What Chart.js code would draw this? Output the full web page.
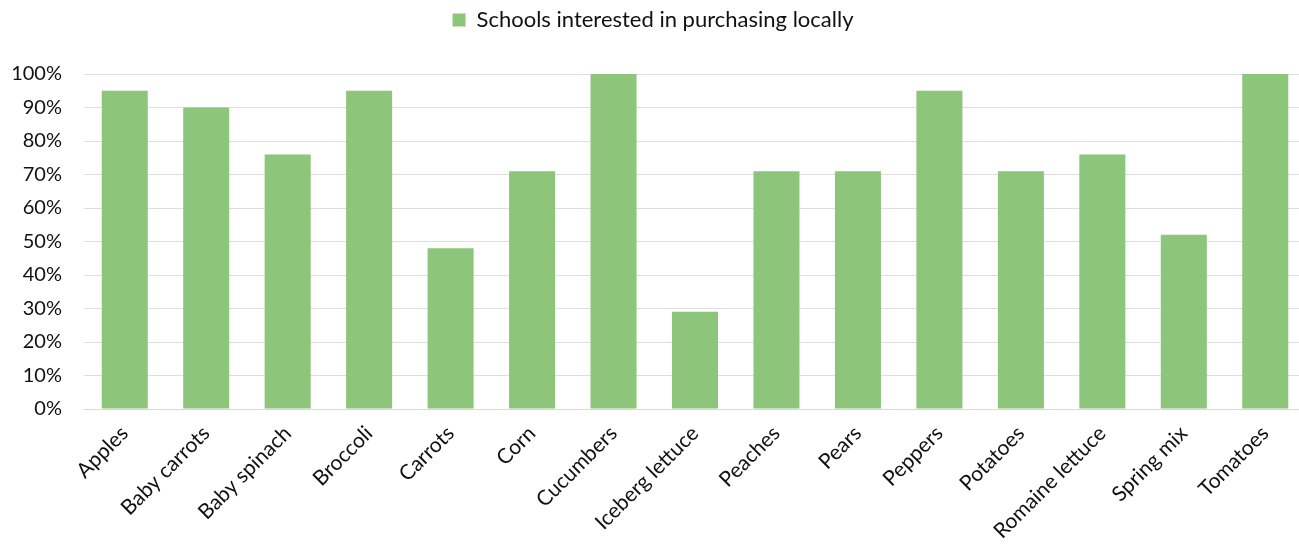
<!DOCTYPE html>
<html>
<head>
<meta charset="utf-8">
<script src="https://cdn.jsdelivr.net/npm/chart.js@4"></script>
<style>
    html, body { margin: 0; padding: 0; background: #fff; overflow: hidden; }
    #wrap { width: 1306px; height: 544px; }
</style>
</head>
<body>
<div id="wrap"><canvas id="chart"></canvas></div>
<script>
// ===== Local purchasing interest by produce item =====
const categories = ['Apples', 'Baby carrots', 'Baby spinach', 'Broccoli', 'Carrots', 'Corn', 'Cucumbers',
    'Iceberg lettuce', 'Peaches', 'Pears', 'Peppers', 'Potatoes', 'Romaine lettuce', 'Spring mix', 'Tomatoes'];
const interested = [95, 90, 76, 95, 48, 71, 100, 29, 71, 71, 95, 71, 76, 52, 100];
const seriesLabel = 'Schools interested in purchasing locally';

const FONT = 'Lato, "Noto Sans", sans-serif';
const INK = '#111';

// leave a gap under the legend before the plot area starts
const legendGap = {
    id: 'legendGap',
    afterInit(chart) {
        const legend = chart.legend;
        if (!legend) return;
        const fit = legend.fit;
        legend.fit = function () {
            fit.call(this);
            this.height += 33;
        };
    }
};

new Chart(document.getElementById('chart'), {
    type: 'bar',
    data: {
        labels: categories,
        datasets: [{
            label: seriesLabel,
            data: interested,
            backgroundColor: '#8dc57a',
            categoryPercentage: 1,
            barPercentage: 0.565
        }]
    },
    plugins: [legendGap],
    options: {
        responsive: true,
        maintainAspectRatio: false,
        animation: false,
        layout: { padding: 0 },
        plugins: {
            legend: {
                position: 'top',
                labels: {
                    color: INK,
                    boxWidth: 13,
                    boxHeight: 13,
                    padding: 9,
                    font: { family: FONT, size: 22 }
                }
            },
            tooltip: { enabled: false }
        },
        scales: {
            x: {
                grid: { display: false },
                border: { color: '#d9d9d9' },
                afterFit: s => { s.height = 135; },
                ticks: {
                    color: INK,
                    maxRotation: 45,
                    minRotation: 45,
                    padding: 4,
                    font: { family: FONT, size: 21 }
                }
            },
            y: {
                min: 0,
                max: 100,
                afterFit: s => { s.width = 84; },
                ticks: {
                    stepSize: 10,
                    color: INK,
                    padding: 22,
                    font: { family: FONT, size: 20 },
                    callback: v => v + '%'
                },
                grid: { color: '#dedede', drawTicks: false },
                border: { display: false }
            }
        }
    }
});
</script>
</body>
</html>
